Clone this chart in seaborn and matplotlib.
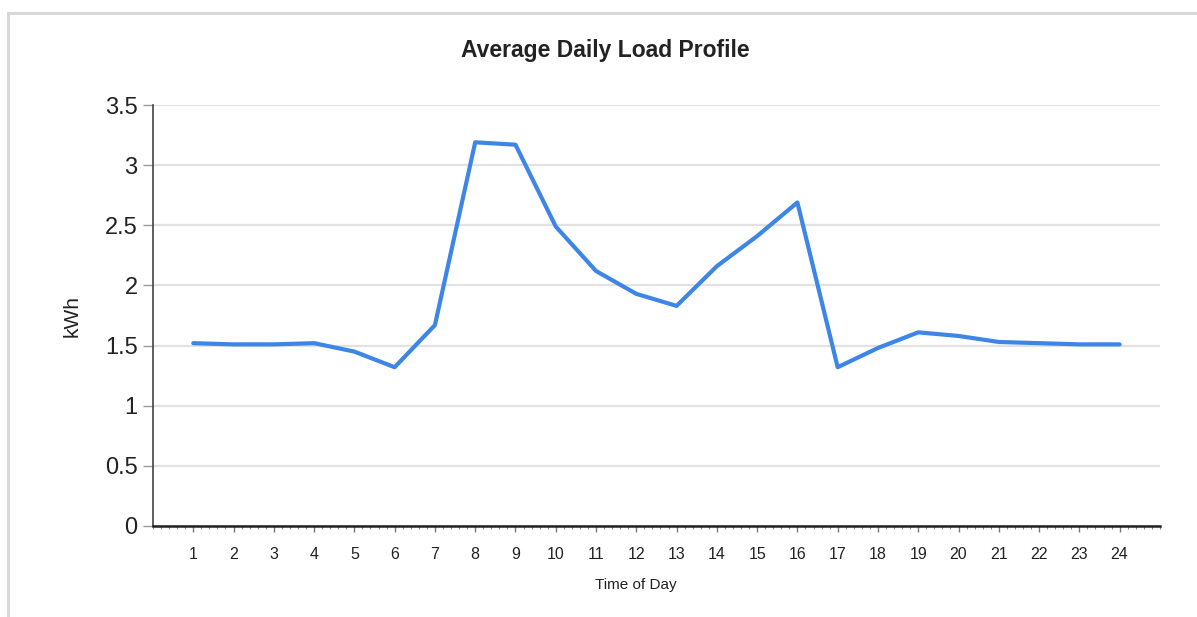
import numpy as np
import pandas as pd
import matplotlib.pyplot as plt
import seaborn as sns
from matplotlib.ticker import MultipleLocator
from matplotlib.patches import Rectangle

# Average daily load profile (kWh per hour of day)
hours = list(range(1, 25))
load_kwh = [1.52, 1.51, 1.51, 1.52, 1.45, 1.32, 1.67, 3.19, 3.17, 2.49, 2.12, 1.93,
            1.83, 2.16, 2.41, 2.69, 1.32, 1.48, 1.61, 1.58, 1.53, 1.52, 1.51, 1.51]
y_ticks = [0, 0.5, 1, 1.5, 2, 2.5, 3, 3.5]
y_tick_labels = ['0', '0.5', '1', '1.5', '2', '2.5', '3', '3.5']

df_load = pd.DataFrame({'Time of Day': hours, 'kWh': load_kwh})

sns.set_style('white')
plt.rcParams['font.family'] = ['Liberation Sans', 'DejaVu Sans']

f, plot_load = plt.subplots(figsize = (11.97, 6.17), dpi = 100)
f.subplots_adjust(left = 0.1278, right = 0.969, bottom = 0.1475, top = 0.8298)

# light frame around the figure, like the source document
f.patches.append(Rectangle((8 / 1197, -0.05), 1.1, 1 - 13 / 617 + 0.05, transform = f.transFigure,
                           fill = False, edgecolor = '#d8d8d8', linewidth = 2.2))

plot_load = sns.lineplot(data = df_load, x = 'Time of Day', y = 'kWh', ax = plot_load,
                         color = '#3d86e8', linewidth = 3)

plot_load.set_xlim(0, 25)
plot_load.set_ylim(0, 3.5)
plot_load.set_xticks(hours)
plot_load.set_xticklabels([str(h) for h in hours], fontsize = 11.5, color = '#222222')
plot_load.xaxis.set_minor_locator(MultipleLocator(0.2))
plot_load.set_yticks(y_ticks)
plot_load.set_yticklabels(y_tick_labels, fontsize = 17, color = '#222222')

plot_load.yaxis.grid(True, color = '#e2e2e2', linewidth = 1.6)
plot_load.set_axisbelow(True)
for side in ['top', 'right']:
    plot_load.spines[side].set_visible(False)
plot_load.spines['left'].set_color('#444444')
plot_load.spines['left'].set_linewidth(1.2)
plot_load.spines['bottom'].set_color('#222222')
plot_load.spines['bottom'].set_linewidth(1.8)

plot_load.tick_params(axis = 'y', which = 'major', length = 7, width = 1, color = '#999999', pad = 4, left = True)
plot_load.tick_params(axis = 'x', which = 'major', length = 4, width = 1, color = '#777777', pad = 11, bottom = True)
plot_load.tick_params(axis = 'x', which = 'minor', length = 2, width = 0.8, color = '#888888', bottom = True)

plot_load.set_xlabel('Time of Day', fontsize = 11, color = '#222222', va = 'center')
plot_load.xaxis.set_label_coords(0.48, -0.14)
plot_load.set_ylabel('kWh', fontsize = 15, color = '#222222', labelpad = 17)

f.text(605 / 1197, 1 - 50 / 617, 'Average Daily Load Profile', ha = 'center', va = 'center',
       fontsize = 16.5, fontweight = 'bold', color = '#222222')

plt.savefig('out.png', dpi = 100)
